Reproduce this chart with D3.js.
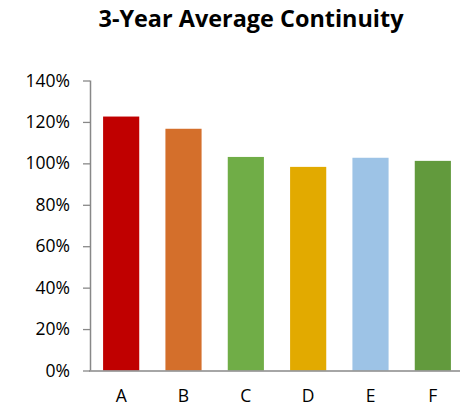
<!DOCTYPE html>
<html>
<head>
<meta charset="utf-8">
<script src="https://cdn.jsdelivr.net/npm/d3@7"></script>
<style>
  body { margin: 0; background: #fff; }
  svg { display: block; }
</style>
</head>
<body>
<svg id="chart" width="462" height="408"></svg>
<script>
const categories = ["A", "B", "C", "D", "E", "F"];
const values = [1.226, 1.167, 1.031, 0.983, 1.027, 1.012];
const barColors = ["#C00000", "#D46F2B", "#70AD47", "#E2AA00", "#9DC3E6", "#629A3D"];
const yTicks = [0, 0.2, 0.4, 0.6, 0.8, 1.0, 1.2, 1.4];
const title = "3-Year Average Continuity";

const svg = d3.select("#chart");
const font = "'Open Sans', 'Liberation Sans', sans-serif";

const x = d3.scaleBand().domain(categories).range([90, 464]).paddingInner(0.42).paddingOuter(0.21);
const y = d3.scaleLinear().domain([0, 1.4]).range([370.5, 80.5]);

// Title
svg.append("text")
  .attr("x", 251).attr("y", 27)
  .attr("text-anchor", "middle")
  .attr("textLength", 305)
  .attr("lengthAdjust", "spacingAndGlyphs")
  .style("font-family", font)
  .style("font-weight", "bold")
  .style("font-size", "23px")
  .style("fill", "#000")
  .text(title);

// Bars
svg.append("g").selectAll("rect")
  .data(values)
  .join("rect")
  .attr("x", (d, i) => x(categories[i]))
  .attr("width", x.bandwidth())
  .attr("y", d => y(d))
  .attr("height", d => y(0) - y(d))
  .attr("fill", (d, i) => barColors[i]);

// Y axis
const yAxis = svg.append("g")
  .attr("transform", "translate(90,0)")
  .call(d3.axisLeft(y).tickValues(yTicks).tickFormat(d3.format(".0%")).tickSize(7).tickPadding(13));
yAxis.attr("font-family", null).attr("font-size", null);
yAxis.select(".domain").attr("stroke", "#888").attr("stroke-width", 1.5).attr("d", `M0.5,${y(1.4)}V${y(0)}`);
yAxis.selectAll(".tick line").attr("stroke", "#888").attr("stroke-width", 1.3);
yAxis.selectAll(".tick text")
  .attr("font-family", font).attr("font-size", 17.5).attr("fill", "#000");

// X axis
const xAxis = svg.append("g")
  .attr("transform", `translate(0,${y(0)})`)
  .call(d3.axisBottom(x).tickSize(0).tickPadding(19));
xAxis.attr("font-family", null).attr("font-size", null);
xAxis.select(".domain").attr("stroke", "#888").attr("stroke-width", 1.5).attr("d", "M89,0.5H460");
xAxis.selectAll(".tick text")
  .attr("font-family", font).attr("font-size", 17.5).attr("fill", "#000");
</script>
</body>
</html>
